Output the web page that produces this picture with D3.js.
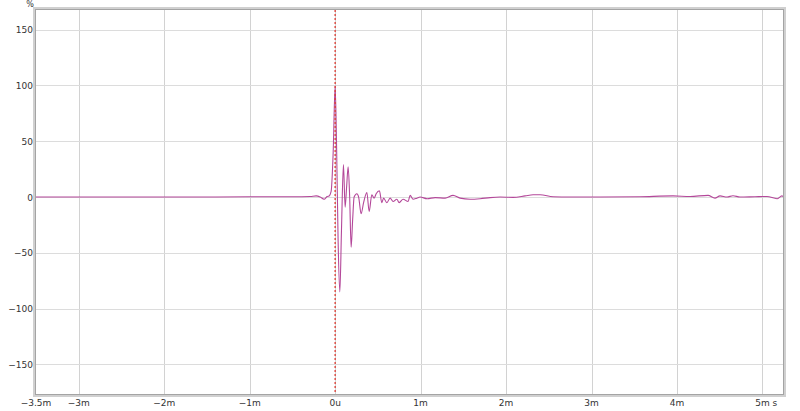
<!DOCTYPE html>
<html>
<head>
<meta charset="utf-8">
<script src="https://cdn.jsdelivr.net/npm/d3@7/dist/d3.min.js"></script>
<style>
  html, body { margin: 0; padding: 0; background: #ffffff; }
  svg { display: block; }
  text { font-family: "Lucida Grande", "DejaVu Sans", sans-serif; fill: #333; }
</style>
</head>
<body>
<svg id="chart" width="800" height="411"></svg>
<script>
// ---- data (time in ms, amplitude in %) ----
const timeMs = [-3.5, -2.749, -1.579, -0.994, -0.526, -0.292, -0.222, -0.175, -0.129, -0.094,
  -0.070, -0.047, -0.023, 0, 0.018, 0.035, 0.055, 0.074, 0.097, 0.117,
  0.135, 0.152, 0.170, 0.187, 0.205, 0.222, 0.254, 0.275, 0.304, 0.333,
  0.371, 0.398, 0.429, 0.456, 0.480, 0.518, 0.546, 0.567, 0.605, 0.643,
  0.678, 0.722, 0.749, 0.795, 0.854, 0.877, 0.912, 0.956, 0.994, 1.076,
  1.170, 1.287, 1.380, 1.462, 1.579, 1.696, 1.813, 1.930, 2.082, 2.222,
  2.316, 2.398, 2.550, 2.749, 3.099, 3.567, 3.953, 4.152, 4.363, 4.444,
  4.503, 4.585, 4.655, 4.737, 4.912, 5.053, 5.170, 5.228, 5.240];
const amplitude = [0, 0, 0, 0.2, 0.3, 0.5, 1, 0, -2, 0.5,
  1, 5, 40, 100, 40, -40, -85, -30, 29, -9,
  10, 27, 0, -45, -20, 0, 3, 0, -15, -5,
  4, -13, 2, -1, 3, 5.6, -5, -1, -5, -1,
  -4, -2, -5, -2, -4, 1.5, -2, -1, 0, -1.5,
  -0.5, -1, 1.5, -1, -2, -1.5, -0.5, 0, -0.3, 1,
  2, 2, 0.3, 0, 0, 0.3, 1, 0.5, 1.5, -1,
  1, 0, 1.2, 0, 0.3, 0.5, -1.5, 1, 0.5];
const xTicks = [-3, -2, -1, 0, 1, 2, 3, 4, 5];
const xTickLabels = ["−3m", "−2m", "−1m", "0u", "1m", "2m", "3m", "4m", "5m"];
const yTicks = [-150, -100, -50, 0, 50, 100, 150];
const yTickLabels = ["−150", "−100", "−50", "0", "50", "100", "150"];
const xDomain = [-3.5, 5.24];
const yDomain = [-176.5, 167.6];

const svg = d3.select("#chart");
const L = 36, R = 783, T = 10, B = 394;
const x = d3.scaleLinear().domain(xDomain).range([L, R]);
const y = d3.scaleLinear().domain(yDomain).range([B, T]);

// plot background
svg.append("rect").attr("x", L).attr("y", T).attr("width", R - L).attr("height", B - T).attr("fill", "#fff");

// grid
const grid = svg.append("g");
grid.selectAll("line.gx").data(xTicks).enter().append("line")
  .attr("x1", d => Math.round(x(d)) + 0.5).attr("x2", d => Math.round(x(d)) + 0.5)
  .attr("y1", T).attr("y2", B).attr("stroke", "#d2d2d2").attr("stroke-width", 1);
grid.selectAll("line.gy").data(yTicks).enter().append("line")
  .attr("y1", d => Math.round(y(d)) + 0.5).attr("y2", d => Math.round(y(d)) + 0.5)
  .attr("x1", L).attr("x2", R).attr("stroke", "#dcdcdc").attr("stroke-width", 1);

// clip
svg.append("clipPath").attr("id", "clip").append("rect")
  .attr("x", L).attr("y", T).attr("width", R - L).attr("height", B - T);

const data = timeMs.map((t, i) => [t, amplitude[i]]);
const line = d3.line().x(d => x(d[0])).y(d => y(d[1])).curve(d3.curveMonotoneX);
svg.append("path").datum(data).attr("clip-path", "url(#clip)")
  .attr("d", line).attr("fill", "none").attr("stroke", "#b4489a").attr("stroke-width", 1.1)
  .attr("stroke-linejoin", "round");

// red dotted marker at 0
svg.append("line").attr("x1", x(0)).attr("x2", x(0)).attr("y1", T).attr("y2", B)
  .attr("stroke", "#dc3c32").attr("stroke-width", 1.3).attr("stroke-dasharray", "2,2");

// frame
svg.append("rect").attr("x", L - 1.5).attr("y", T - 1.5).attr("width", R - L + 3).attr("height", B - T + 3)
  .attr("fill", "none").attr("stroke", "#d0d0d0").attr("stroke-width", 3);
svg.append("rect").attr("x", L - 0.5).attr("y", T - 0.5).attr("width", R - L + 1).attr("height", B - T + 1)
  .attr("fill", "none").attr("stroke", "#a4a4a4").attr("stroke-width", 1);

// y labels
svg.selectAll("text.yl").data(yTicks).enter().append("text")
  .attr("x", 33).attr("y", d => y(d) + 3.5).attr("text-anchor", "end")
  .attr("font-size", 9).text((d, i) => yTickLabels[i]);
svg.append("text").attr("x", 30).attr("y", 7).attr("text-anchor", "middle").attr("font-size", 8).text("%");

// x labels
svg.selectAll("text.xl").data(xTicks).enter().append("text")
  .attr("x", d => x(d)).attr("y", 406).attr("text-anchor", "middle")
  .attr("font-size", 9).text((d, i) => xTickLabels[i]);
svg.append("text").attr("x", x(xDomain[0])).attr("y", 406).attr("text-anchor", "middle")
  .attr("font-size", 9).text("−3.5m");
svg.append("text").attr("x", x(5) + 10).attr("y", 406).attr("text-anchor", "start")
  .attr("font-size", 9).text("s");
</script>
</body>
</html>
